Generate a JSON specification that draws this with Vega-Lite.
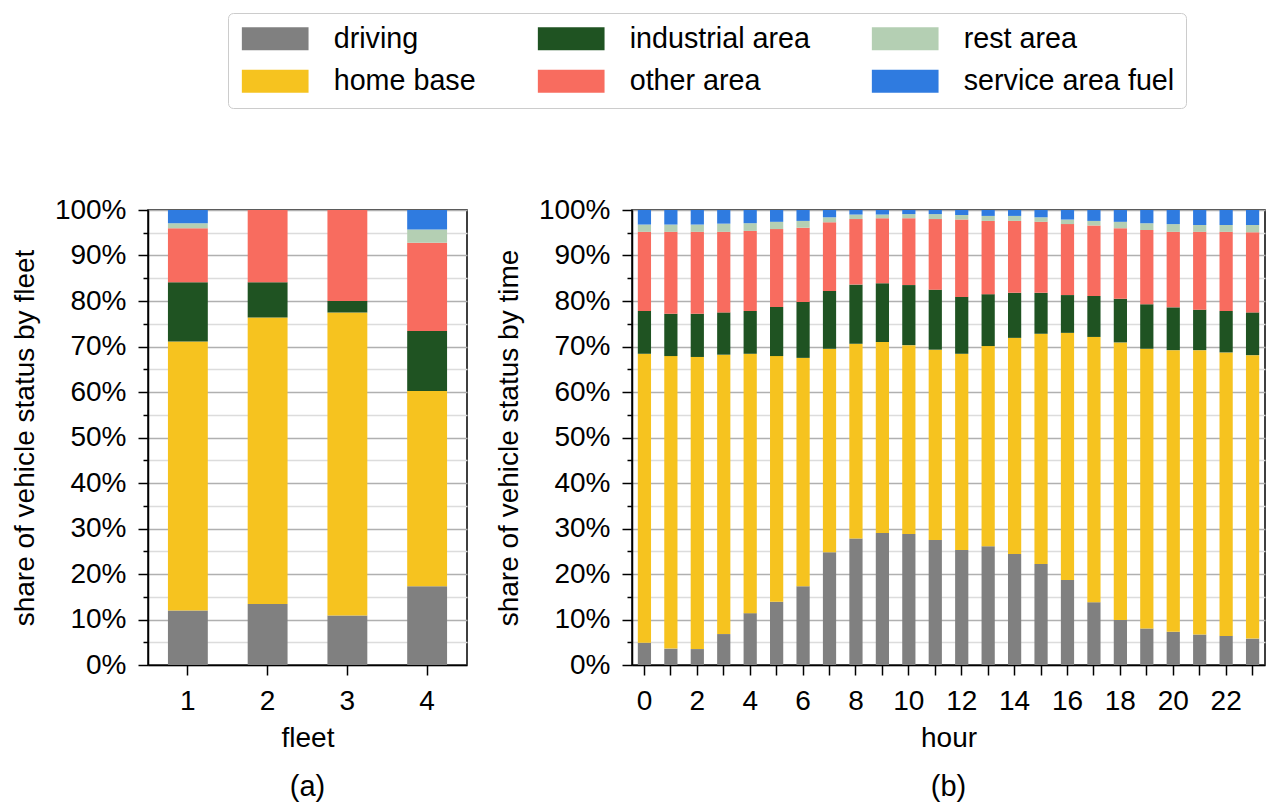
{
  "$schema": "https://vega.github.io/schema/vega-lite/v6.json",
  "padding": {"left": 10, "top": 12, "right": 0, "bottom": 0},
  "background": "white",
  "config": {
    "font": "Liberation Sans",
    "view": {"stroke": "black", "strokeWidth": 1.5},
    "axis": {
      "labelFont": "Liberation Sans", "labelFontSize": 28, "labelColor": "black",
      "titleFont": "Liberation Sans", "titleFontSize": 28, "titleFontWeight": "normal", "titleColor": "black",
      "domainColor": "black", "domainWidth": 1.5, "tickColor": "black", "tickWidth": 1.5, "tickSize": 10,
      "labelPadding": 12, "titlePadding": 9, "zindex": 1
    },
    "title": {"font": "Liberation Sans", "fontSize": 29, "fontWeight": "normal", "color": "black", "orient": "bottom", "offset": 21, "anchor": "middle"},
    "concat": {"spacing": 26}
  },
  "datasets": {
    "fleetData": [
      {"fleet": 1, "driving": 12.0, "home base": 59.1, "industrial area": 13.0, "other area": 11.9, "rest area": 1.1, "service area fuel": 2.9},
      {"fleet": 2, "driving": 13.4, "home base": 63.0, "industrial area": 7.7, "other area": 15.9, "rest area": 0, "service area fuel": 0},
      {"fleet": 3, "driving": 10.9, "home base": 66.6, "industrial area": 2.5, "other area": 20.0, "rest area": 0, "service area fuel": 0},
      {"fleet": 4, "driving": 17.3, "home base": 42.9, "industrial area": 13.2, "other area": 19.4, "rest area": 2.9, "service area fuel": 4.3}
    ],
    "hourData": [
      {"hour": 0, "driving": 4.9, "home base": 63.5, "industrial area": 9.4, "other area": 17.4, "rest area": 1.6, "service area fuel": 3.2},
      {"hour": 1, "driving": 3.6, "home base": 64.3, "industrial area": 9.3, "other area": 18.0, "rest area": 1.6, "service area fuel": 3.2},
      {"hour": 2, "driving": 3.5, "home base": 64.2, "industrial area": 9.5, "other area": 18.0, "rest area": 1.6, "service area fuel": 3.2},
      {"hour": 3, "driving": 6.8, "home base": 61.4, "industrial area": 9.3, "other area": 17.7, "rest area": 1.8, "service area fuel": 3.0},
      {"hour": 4, "driving": 11.4, "home base": 57.0, "industrial area": 9.4, "other area": 17.6, "rest area": 1.7, "service area fuel": 2.9},
      {"hour": 5, "driving": 13.9, "home base": 54.0, "industrial area": 10.8, "other area": 17.1, "rest area": 1.6, "service area fuel": 2.6},
      {"hour": 6, "driving": 17.3, "home base": 50.2, "industrial area": 12.3, "other area": 16.3, "rest area": 1.5, "service area fuel": 2.4},
      {"hour": 7, "driving": 24.8, "home base": 44.7, "industrial area": 12.7, "other area": 15.1, "rest area": 1.1, "service area fuel": 1.6},
      {"hour": 8, "driving": 27.8, "home base": 42.8, "industrial area": 13.0, "other area": 14.4, "rest area": 1.0, "service area fuel": 1.0},
      {"hour": 9, "driving": 29.0, "home base": 42.0, "industrial area": 12.9, "other area": 14.3, "rest area": 0.8, "service area fuel": 1.0},
      {"hour": 10, "driving": 28.8, "home base": 41.5, "industrial area": 13.2, "other area": 14.7, "rest area": 0.9, "service area fuel": 0.9},
      {"hour": 11, "driving": 27.5, "home base": 41.8, "industrial area": 13.2, "other area": 15.5, "rest area": 1.1, "service area fuel": 0.9},
      {"hour": 12, "driving": 25.3, "home base": 43.1, "industrial area": 12.5, "other area": 17.0, "rest area": 1.0, "service area fuel": 1.1},
      {"hour": 13, "driving": 26.1, "home base": 44.0, "industrial area": 11.4, "other area": 16.1, "rest area": 1.1, "service area fuel": 1.3},
      {"hour": 14, "driving": 24.4, "home base": 47.5, "industrial area": 9.9, "other area": 15.8, "rest area": 1.1, "service area fuel": 1.3},
      {"hour": 15, "driving": 22.2, "home base": 50.6, "industrial area": 9.0, "other area": 15.6, "rest area": 1.0, "service area fuel": 1.6},
      {"hour": 16, "driving": 18.7, "home base": 54.3, "industrial area": 8.3, "other area": 15.6, "rest area": 1.0, "service area fuel": 2.1},
      {"hour": 17, "driving": 13.8, "home base": 58.3, "industrial area": 9.0, "other area": 15.5, "rest area": 1.0, "service area fuel": 2.4},
      {"hour": 18, "driving": 9.9, "home base": 61.0, "industrial area": 9.6, "other area": 15.5, "rest area": 1.4, "service area fuel": 2.6},
      {"hour": 19, "driving": 8.0, "home base": 61.5, "industrial area": 9.8, "other area": 16.3, "rest area": 1.5, "service area fuel": 2.9},
      {"hour": 20, "driving": 7.3, "home base": 61.9, "industrial area": 9.4, "other area": 16.6, "rest area": 1.7, "service area fuel": 3.1},
      {"hour": 21, "driving": 6.7, "home base": 62.5, "industrial area": 8.9, "other area": 17.1, "rest area": 1.5, "service area fuel": 3.3},
      {"hour": 22, "driving": 6.4, "home base": 62.3, "industrial area": 9.1, "other area": 17.4, "rest area": 1.5, "service area fuel": 3.3},
      {"hour": 23, "driving": 5.8, "home base": 62.3, "industrial area": 9.4, "other area": 17.6, "rest area": 1.6, "service area fuel": 3.3}
    ]
  },
  "hconcat": [
    {
      "data": {"name": "fleetData"},
      "transform": [{"fold": ["driving", "home base", "industrial area", "other area", "rest area", "service area fuel"], "as": ["status", "share"]}],
      "title": {"text": "(a)"},
      "width": 319,
      "height": 455,
      "mark": {"type": "bar"},
      "encoding": {
        "x": {"field": "fleet", "type": "ordinal", "scale": {"paddingInner": 0.5, "paddingOuter": 0.25},
              "axis": {"title": "fleet", "labelAngle": 0, "grid": false}},
        "y": {"field": "share", "type": "quantitative", "stack": "zero", "scale": {"domain": [0, 100], "nice": false},
              "axis": {"title": "share of vehicle status by fleet",
                       "values": [0,5,10,15,20,25,30,35,40,45,50,55,60,65,70,75,80,85,90,95,100],
                       "labelExpr": "datum.value % 10 === 0 ? datum.value + '%' : ''",
                       "labelPadding": 12, "titlePadding": 15, "grid": true, "gridWidth": 1.5,
                       "tickSize": {"condition": {"test": "datum.value % 10 === 0", "value": 10}, "value": 5},
                       "gridColor": {"condition": {"test": "datum.value % 10 === 0", "value": "#b0b0b0"}, "value": "#dcdcdc"}}},
        "color": {"field": "status", "type": "nominal",
                  "scale": {"domain": ["driving", "home base", "industrial area", "other area", "rest area", "service area fuel"],
                            "range": ["#808080", "#f6c31f", "#1f5322", "#f86c5f", "#b4cfb3", "#2f7be0"]},
                  "legend": {"orient": "none", "legendX": 80, "legendY": -197, "columns": 3, "title": null,
                             "symbolType": "M-1,-1H4.8V1H-1Z", "symbolSize": 529, "symbolStrokeWidth": 0, "symbolOpacity": 1,
                             "labelFont": "Liberation Sans", "labelFontSize": 28.7, "labelColor": "black", "labelLimit": 400,
                             "labelOffset": 66, "columnPadding": 59, "rowPadding": 13, "padding": 11,
                             "strokeColor": "#cccccc", "cornerRadius": 5, "fillColor": "white"}},
        "order": {"field": "status", "type": "ordinal", "sort": "ascending"}
      }
    },
    {
      "data": {"name": "hourData"},
      "transform": [{"fold": ["driving", "home base", "industrial area", "other area", "rest area", "service area fuel"], "as": ["status", "share"]}],
      "title": {"text": "(b)"},
      "width": 633,
      "height": 455,
      "mark": {"type": "bar"},
      "encoding": {
        "x": {"field": "hour", "type": "ordinal", "scale": {"paddingInner": 0.5, "paddingOuter": 0.22},
              "axis": {"title": "hour", "labelAngle": 0, "grid": false, "labelOverlap": false,
                       "labelExpr": "datum.value % 2 === 0 ? datum.label : ''"}},
        "y": {"field": "share", "type": "quantitative", "stack": "zero", "scale": {"domain": [0, 100], "nice": false},
              "axis": {"title": "share of vehicle status by time",
                       "values": [0,5,10,15,20,25,30,35,40,45,50,55,60,65,70,75,80,85,90,95,100],
                       "labelExpr": "datum.value % 10 === 0 ? datum.value + '%' : ''",
                       "labelPadding": 12, "titlePadding": 15, "grid": true, "gridWidth": 1.5,
                       "tickSize": {"condition": {"test": "datum.value % 10 === 0", "value": 10}, "value": 5},
                       "gridColor": {"condition": {"test": "datum.value % 10 === 0", "value": "#b0b0b0"}, "value": "#dcdcdc"}}},
        "color": {"field": "status", "type": "nominal",
                  "scale": {"domain": ["driving", "home base", "industrial area", "other area", "rest area", "service area fuel"],
                            "range": ["#808080", "#f6c31f", "#1f5322", "#f86c5f", "#b4cfb3", "#2f7be0"]}},
        "order": {"field": "status", "type": "ordinal", "sort": "ascending"}
      }
    }
  ]
}
